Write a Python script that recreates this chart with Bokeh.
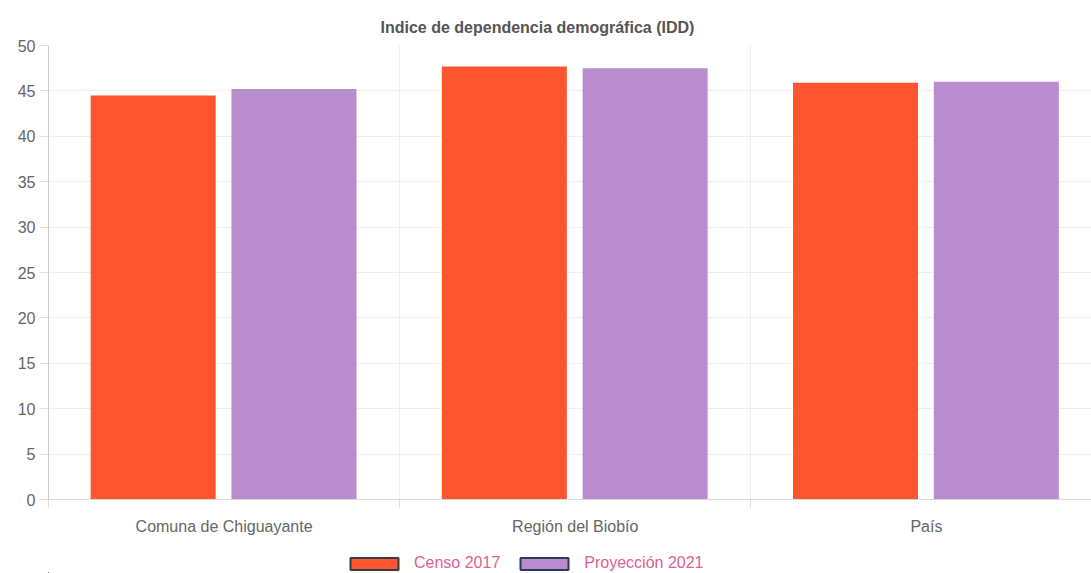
from bokeh.plotting import figure
from bokeh.layouts import column
from bokeh.models import ColumnDataSource, FixedTicker, Legend, LegendItem, Range1d
from bokeh.transform import dodge
from bokeh.embed import file_html
from bokeh.resources import INLINE

categories = ["Comuna de Chiguayante", "Región del Biobío", "País"]
censo_2017 = [44.5, 47.7, 45.9]
proyeccion_2021 = [45.2, 47.5, 46.0]
y_ticks = [0, 5, 10, 15, 20, 25, 30, 35, 40, 45, 50]
series_labels = ["Censo 2017", "Proyección 2021"]

FONT = "Liberation Sans"
C_CENSO = "#fd5530"
C_PROY = "#b88ccd"

xpos = [i + 0.5 for i in range(len(categories))]
src = ColumnDataSource(dict(x=xpos, censo=censo_2017, proy=proyeccion_2021))

p = figure(width=1091, height=537, output_backend="svg", toolbar_location=None,
           x_range=Range1d(0, 2.97), y_range=Range1d(0, 50),
           min_border_left=48, min_border_right=0, min_border_top=45, min_border_bottom=34)

p.title.text = "Indice de dependencia demográfica (IDD)"
p.title.align = "left"
p.title.offset = 332
p.title.text_font = FONT
p.title.text_font_size = "16px"
p.title.text_font_style = "bold"
p.title.text_color = "#555555"
p.title.standoff = 19

p.vbar(x=dodge("x", -0.202, range=p.x_range), top="censo", width=0.356, source=src,
       fill_color=C_CENSO, line_color=None)
p.vbar(x=dodge("x", 0.199, range=p.x_range), top="proy", width=0.356, source=src,
       fill_color=C_PROY, line_color=None)

xt = FixedTicker(ticks=xpos, minor_ticks=[0, 1, 2, 3])
p.xaxis.ticker = xt
p.xaxis.major_label_overrides = {x: c for x, c in zip(xpos, categories)}
p.xaxis.major_tick_line_color = None
p.xaxis.major_tick_out = 0
p.xaxis.major_tick_in = 0
p.xaxis.minor_tick_out = 8
p.xaxis.minor_tick_in = 0
p.xaxis.minor_tick_line_color = "#dddddd"
p.xaxis.axis_line_color = "#d8d8d8"
p.xaxis.major_label_text_font = FONT
p.xaxis.major_label_text_font_size = "16px"
p.xaxis.major_label_text_color = "#666666"
p.xaxis.major_label_standoff = 10

p.yaxis.ticker = FixedTicker(ticks=y_ticks)
p.yaxis.minor_tick_line_color = None
p.yaxis.major_tick_out = 8
p.yaxis.major_tick_in = 0
p.yaxis.major_tick_line_color = "#dddddd"
p.yaxis.axis_line_color = "#cccccc"
p.yaxis.major_label_text_font = FONT
p.yaxis.major_label_text_font_size = "16px"
p.yaxis.major_label_text_color = "#666666"
p.yaxis.major_label_standoff = 5

p.xgrid.ticker = FixedTicker(ticks=[1, 2, 3])
p.xgrid.grid_line_color = "#eeeeee"
p.ygrid.grid_line_color = "#eeeeee"
p.outline_line_color = None

# legend strip below the chart; its swatch renderers use the same data but lie far outside its view
lg = figure(width=1091, height=36, output_backend="svg", toolbar_location=None,
            x_axis_location=None, y_axis_location=None,
            x_range=Range1d(100, 101), y_range=Range1d(1000, 1001),
            min_border_left=0, min_border_right=0, min_border_top=0, min_border_bottom=0)
lg.grid.visible = False
lg.outline_line_color = None
l1 = lg.vbar(x=dodge("x", -0.202, range=lg.x_range), top="censo", width=0.356, source=src,
             fill_color=C_CENSO, line_color="#3a3a48", line_width=2)
l2 = lg.vbar(x=dodge("x", 0.199, range=lg.x_range), top="proy", width=0.356, source=src,
             fill_color=C_PROY, line_color="#2b3a55", line_width=2)
legend = Legend(items=[LegendItem(label=series_labels[0], renderers=[l1]),
                       LegendItem(label=series_labels[1], renderers=[l2])],
                orientation="horizontal", location=(296, 1),
                label_text_font=FONT, label_text_font_size="16px", label_text_color="#e0608f",
                glyph_width=60, glyph_height=15, spacing=14, label_standoff=10,
                padding=1, margin=0, border_line_color=None, background_fill_alpha=0)
lg.add_layout(legend)

layout = column(p, lg, spacing=0)
open("out.html", "w").write(file_html(layout, INLINE))
